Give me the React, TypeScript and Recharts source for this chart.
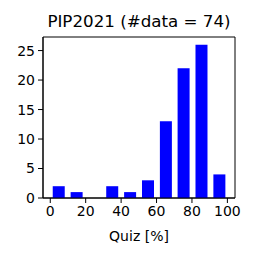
import { BarChart, Bar, XAxis, YAxis, ReferenceArea } from "recharts";

const binCenters = [4.7, 14.8, 24.9, 34.9, 45.0, 55.1, 65.2, 75.2, 85.3, 95.4];
const counts = [2, 1, 0, 2, 1, 3, 13, 22, 26, 4];
const xTicks = [0, 20, 40, 60, 80, 100];
const yTicks = [0, 5, 10, 15, 20, 25];

const data = binCenters.map((x, i) => ({ x, n: counts[i] }));

const font = "DejaVu Sans";
const tickStyle = { fill: "#000", fontSize: 14, fontFamily: font };
const xDomain: [number, number] = [-4.1, 104.3];
const yDomain: [number, number] = [0, 27.3];

export default function App() {
  return (
    <div style={{ position: "absolute", left: 0, top: 0, width: 256, height: 256, background: "#fff" }}>
      <div
        style={{
          position: "absolute",
          left: 43,
          width: 192,
          top: 11,
          textAlign: "center",
          fontFamily: font,
          fontSize: 16.7,
          lineHeight: "20px",
          whiteSpace: "nowrap",
        }}
      >
        PIP2021 (#data = 74)
      </div>
      <BarChart
        width={256}
        height={256}
        data={data}
        margin={{ top: 37, right: 21, bottom: 0, left: 1 }}
      >
        <XAxis
          dataKey="x"
          type="number"
          domain={xDomain}
          ticks={xTicks}
          allowDataOverflow
          height={58}
          tickSize={5}
          tickMargin={3}
          tick={tickStyle}
          stroke="#000"
          label={{ value: "Quiz [%]", position: "insideBottom", offset: 15, fill: "#000", fontSize: 14, fontFamily: font }}
        />
        <YAxis
          type="number"
          domain={yDomain}
          ticks={yTicks}
          allowDataOverflow
          width={42}
          tickSize={5}
          tickMargin={3}
          tick={tickStyle}
          stroke="#000"
        />
        <Bar dataKey="n" fill="#0000ff" barSize={12} isAnimationActive={false} />
        <ReferenceArea
          x1={xDomain[0]}
          x2={xDomain[1]}
          y1={yDomain[0]}
          y2={yDomain[1]}
          fill="none"
          stroke="#000"
          strokeWidth={1}
          ifOverflow="visible"
        />
      </BarChart>
    </div>
  );
}
